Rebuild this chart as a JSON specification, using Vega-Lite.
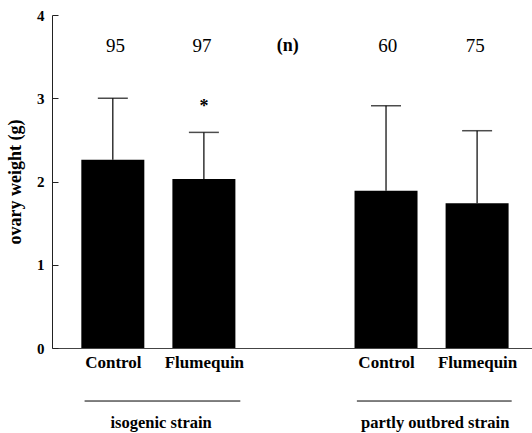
{
  "$schema": "https://vega.github.io/schema/vega-lite/v6.json",
  "width": 480,
  "height": 333,
  "autosize": {"type": "none"},
  "padding": {"left": 52, "top": 15, "right": 0, "bottom": 85},
  "background": "white",
  "config": {
    "view": {"stroke": null},
    "font": "Liberation Serif",
    "axis": {"labelFont": "Liberation Serif", "titleFont": "Liberation Serif", "labelColor": "black", "titleColor": "black", "domainColor": "#222", "tickColor": "#222", "grid": false}
  },
  "datasets": {
    "bars": [
      {"group": "isogenic strain", "treatment": "Control", "pos": 0, "mean": 2.26, "upper": 3.0},
      {"group": "isogenic strain", "treatment": "Flumequin", "pos": 1, "mean": 2.03, "upper": 2.59},
      {"group": "partly outbred strain", "treatment": "Control", "pos": 3, "mean": 1.89, "upper": 2.91},
      {"group": "partly outbred strain", "treatment": "Flumequin", "pos": 4, "mean": 1.74, "upper": 2.61}
    ],
    "counts": [
      {"pos": 0.03, "label": "95", "kind": "n"},
      {"pos": 0.98, "label": "97", "kind": "n"},
      {"pos": 1.92, "label": "(n)", "kind": "header"},
      {"pos": 3.02, "label": "60", "kind": "n"},
      {"pos": 3.98, "label": "75", "kind": "n"}
    ],
    "groups": [
      {"group": "isogenic strain", "start": -0.31, "end": 1.4, "mid": 0.53},
      {"group": "partly outbred strain", "start": 2.68, "end": 4.38, "mid": 3.54}
    ],
    "sig": [{"pos": 1, "y": 2.9, "label": "*"}]
  },
  "layer": [
    {
      "data": {"name": "bars"},
      "mark": {"type": "bar", "size": 63, "color": "black"},
      "encoding": {
        "x": {"field": "pos", "type": "quantitative", "scale": {"domain": [-0.613, 4.548], "nice": false, "zero": false},
          "axis": {"values": [0, 1, 3, 4], "labelExpr": "datum.value == 0 || datum.value == 3 ? 'Control' : 'Flumequin'", "ticks": false, "labelPadding": 6, "labelFontSize": 17, "labelFontWeight": "bold", "title": null, "domainColor": "#444"}},
        "y": {"field": "mean", "type": "quantitative", "scale": {"domain": [0, 4], "nice": false},
          "axis": {"values": [0, 1, 2, 3, 4], "format": "d", "tickSize": -6, "labelPadding": 14, "labelFontSize": 15, "labelFontWeight": "bold", "title": "ovary weight (g)", "titleFontSize": 18, "titleFontWeight": "bold", "titlePadding": 12}}
      }
    },
    {
      "data": {"name": "bars"},
      "mark": {"type": "rule", "color": "black", "strokeWidth": 1.2},
      "encoding": {
        "x": {"field": "pos", "type": "quantitative"},
        "y": {"field": "mean", "type": "quantitative"},
        "y2": {"field": "upper"}
      }
    },
    {
      "data": {"name": "bars"},
      "mark": {"type": "tick", "orient": "horizontal", "size": 30, "thickness": 1.5, "color": "black"},
      "encoding": {
        "x": {"field": "pos", "type": "quantitative"},
        "y": {"field": "upper", "type": "quantitative"}
      }
    },
    {
      "data": {"name": "counts"},
      "transform": [{"filter": "datum.kind == 'n'"}],
      "mark": {"type": "text", "fontSize": 19, "color": "black", "baseline": "middle"},
      "encoding": {
        "x": {"field": "pos", "type": "quantitative"},
        "y": {"datum": 3.63, "type": "quantitative"},
        "text": {"field": "label"}
      }
    },
    {
      "data": {"name": "counts"},
      "transform": [{"filter": "datum.kind == 'header'"}],
      "mark": {"type": "text", "fontSize": 18, "fontWeight": "bold", "color": "black", "baseline": "middle"},
      "encoding": {
        "x": {"field": "pos", "type": "quantitative"},
        "y": {"datum": 3.63, "type": "quantitative"},
        "text": {"field": "label"}
      }
    },
    {
      "data": {"name": "sig"},
      "mark": {"type": "text", "fontSize": 18, "fontWeight": "bold", "color": "black", "baseline": "middle"},
      "encoding": {
        "x": {"field": "pos", "type": "quantitative"},
        "y": {"field": "y", "type": "quantitative"},
        "text": {"field": "label"}
      }
    },
    {
      "data": {"name": "groups"},
      "mark": {"type": "rule", "color": "black", "strokeWidth": 1},
      "encoding": {
        "x": {"field": "start", "type": "quantitative"},
        "x2": {"field": "end"},
        "y": {"datum": -0.637, "type": "quantitative"}
      }
    },
    {
      "data": {"name": "groups"},
      "mark": {"type": "text", "fontSize": 16.5, "fontWeight": "bold", "color": "black", "baseline": "middle"},
      "encoding": {
        "x": {"field": "mid", "type": "quantitative"},
        "y": {"datum": -0.9, "type": "quantitative"},
        "text": {"field": "group"}
      }
    }
  ]
}
